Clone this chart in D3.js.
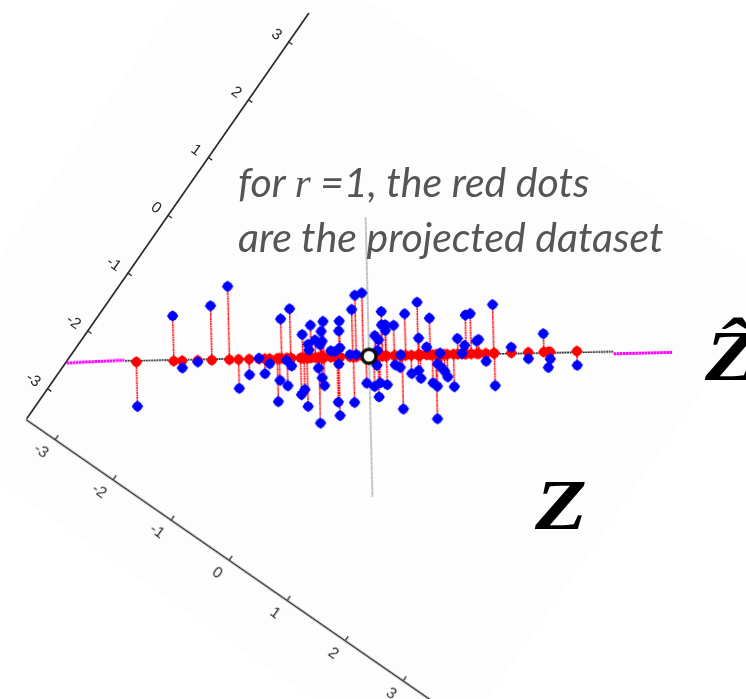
<!DOCTYPE html>
<html>
<head>
<meta charset="utf-8">
<script src="https://cdn.jsdelivr.net/npm/d3@7"></script>
<style>
  html, body { margin: 0; padding: 0; background: #fff; }
  svg { display: block; }
</style>
</head>
<body>
<svg id="chart" width="746" height="699"></svg>
<script>
// scores on the principal direction and the residual off it, one pair per sample
const scores = [
  -3.30, -2.77, -2.65, -2.43, -2.23, -1.98, -1.85, -1.70, -1.56, -1.48,
  -1.41, -1.30, -1.27, -1.24, -1.17, -1.16, -1.11, -1.10, -0.97, -0.94,
  -0.92, -0.88, -0.86, -0.85, -0.82, -0.76, -0.72, -0.69, -0.71, -0.67,
  -0.66, -0.64, -0.67, -0.64, -0.54, -0.48, -0.43, -0.45, -0.41, -0.42,
  -0.41, -0.43, -0.27, -0.23, -0.18, -0.22, -0.18, -0.08, -0.04, 0.19,
  0.09, 0.14, 0.19, 0.24, 0.24, 0.36, 0.11, 0.07, 0.15, 0.25,
  0.13, 0.45, 0.52, 0.37, 0.44, 0.47, 0.70, 0.71, 0.60, 0.70,
  0.73, 0.82, 0.87, 0.90, 0.96, 0.95, 0.97, 1.01, 1.03, 1.07,
  1.11, 1.20, 1.26, 1.36, 1.32, 1.38, 1.45, 1.53, 1.56, 1.66,
  1.77, 1.78, 2.02, 2.26, 2.48, 2.57, 2.54, 2.95, 0.12
];
const residuals = [
  -0.63, 0.64, -0.10, -0.02, 0.77, 1.04, -0.41, -0.22, 0.01, -0.21,
  -0.07, -0.61, -0.31, 0.56, -0.03, -0.39, 0.70, -0.11, -0.52, 0.33,
  -0.45, -0.69, 0.19, 0.11, 0.46, 0.25, -0.15, 0.18, -0.93, 0.37,
  0.23, 0.51, -0.29, -0.40, 0.09, 0.08, -0.10, -0.64, 0.51, 0.37,
  0.13, -0.83, 0.03, 0.67, 0.87, -0.65, 0.03, 0.90, -0.38, 0.63,
  0.29, 0.23, 0.44, 0.44, 0.36, 0.43, -0.13, -0.43, -0.38, -0.41,
  -0.58, 0.01, 0.59, -0.13, -0.17, -0.76, 0.75, 0.24, -0.26, -0.22,
  -0.33, 0.11, 0.52, -0.40, -0.45, -0.91, -0.13, 0.02, -0.19, -0.24,
  -0.32, -0.46, 0.22, 0.12, 0.01, 0.55, 0.57, 0.18, 0.20, -0.11,
  0.69, -0.46, 0.08, -0.09, 0.26, -0.10, -0.22, -0.20, 0.08
];

const tickValues = [-3, -2, -1, 0, 1, 2, 3];
const directionLine = [[-3.46, 0.02], [3.47, -0.02]];
const extentLeft = [[-4.29, 0.01], [-3.47, 0.03]];
const extentRight = [[3.47, -0.05], [4.30, -0.05]];
const normalLine = [[0, 1.97], [0, -2.0]];

const svg = d3.select('#chart');

const defs = svg.append('defs');
defs.append('filter').attr('id', 'soft')
  .attr('x', '-5%').attr('y', '-5%').attr('width', '110%').attr('height', '110%')
  .append('feGaussianBlur').attr('stdDeviation', 0.45);

// the pasted plot sits tilted on the page, a and b are its two axes
const aStep = [40.2, -57.8];
const bStep = [58, 40.2];
const plotCentre = [370.5, 356.2];
const place = (a, b) => [
  plotCentre[0] + a * aStep[0] + b * bStep[0],
  plotCentre[1] + a * aStep[1] + b * bStep[1]
];

svg.append('polygon')
  .attr('points', [[-4.47, -5.12], [4.13, -5.12], [4.13, 4.14], [-4.47, 4.14]]
    .map(d => place(d[0], d[1]).join(',')).join(' '))
  .attr('fill', '#fdfdfd');

const plot = svg.append('g').attr('filter', 'url(#soft)');

// axes
const unitA = Math.hypot(aStep[0], aStep[1]);
const unitB = Math.hypot(bStep[0], bStep[1]);
const axisA = d3.scaleLinear().domain([-3.52, 3.5]).range([0, 7.02 * unitA]);
const axisB = d3.scaleLinear().domain([-3.5, 3.52]).range([0, 7.02 * unitB]);
const corner = place(-3.52, -3.5);
const angleA = Math.atan2(aStep[1], aStep[0]) * 180 / Math.PI;
const angleB = Math.atan2(bStep[1], bStep[0]) * 180 / Math.PI;
const textAngle = 36;

const styleAxis = g => {
  g.selectAll('path').attr('stroke', '#2a2a2a').attr('stroke-width', 1.7);
  g.selectAll('line').attr('stroke', '#2a2a2a').attr('stroke-width', 1.3);
  g.selectAll('text')
    .attr('font-family', '"Liberation Sans", sans-serif')
    .attr('font-size', 15.5)
    .attr('fill', '#2a2a2a')
    .attr('text-anchor', 'end');
};

plot.append('g')
  .attr('transform', `translate(${corner}) rotate(${angleA})`)
  .call(d3.axisTop(axisA).tickValues(tickValues).tickFormat(String)
    .tickSizeInner(-5).tickSizeOuter(0))
  .call(styleAxis)
  .selectAll('text')
  .attr('y', 0).attr('dy', '0.35em')
  .attr('transform', `translate(0,-9.4) rotate(${textAngle - angleA})`);

plot.append('g')
  .attr('transform', `translate(${corner}) rotate(${angleB})`)
  .call(d3.axisBottom(axisB).tickValues(tickValues).tickFormat(String)
    .tickSizeInner(-5).tickSizeOuter(0))
  .call(styleAxis)
  .selectAll('text')
  .attr('y', 0).attr('dy', '0.35em')
  .attr('transform', `translate(1.8,16.8) rotate(${textAngle - angleB})`);

// data frame: along the principal direction, and across it
const frame = plot.append('g').attr('transform', 'translate(369,356.3) rotate(-1.4)');
const sx = d3.scaleLinear().domain([-1, 1]).range([-70.5, 70.5]);
const sy = d3.scaleLinear().domain([-1, 1]).range([70.5, -70.5]);
const line = d3.line().x(d => sx(d[0])).y(d => sy(d[1]));

frame.append('path').attr('d', line(normalLine))
  .attr('fill', 'none').attr('stroke', '#b4b4b4').attr('stroke-width', 1.8)
  .attr('stroke-dasharray', '2 0.5');

frame.selectAll('.stem').data(scores).join('line')
  .attr('class', 'stem')
  .attr('x1', d => sx(d)).attr('x2', d => sx(d))
  .attr('y1', sy(0)).attr('y2', (d, i) => sy(residuals[i]))
  .attr('stroke', '#f00').attr('stroke-width', 1.5)
  .attr('stroke-dasharray', '2 0.5');

frame.append('path').attr('d', line(directionLine))
  .attr('fill', 'none').attr('stroke', '#222').attr('stroke-width', 1.6)
  .attr('stroke-dasharray', '2 0.6');

[extentLeft, extentRight].forEach(seg => {
  frame.append('path').attr('d', line(seg))
    .attr('fill', 'none').attr('stroke', '#f0f').attr('stroke-width', 3)
    .attr('stroke-dasharray', '2.6 0.5');
});

// the marks are rough octagons with the points top, bottom, left and right
const roughDot = {
  draw(context, size) {
    const r = Math.sqrt(size);
    for (let i = 0; i < 8; i++) {
      const ang = i * Math.PI / 4;
      const len = i % 2 ? r * 0.92 : r * 1.1;
      const px = Math.cos(ang) * len;
      const py = Math.sin(ang) * len;
      if (i === 0) context.moveTo(px, py); else context.lineTo(px, py);
    }
    context.closePath();
  }
};
const dot = d3.symbol().type(roughDot).size(27);

frame.selectAll('.red').data(scores).join('path')
  .attr('class', 'red')
  .attr('d', dot)
  .attr('transform', d => `translate(${sx(d)},${sy(0)})`)
  .attr('fill', '#f00');

frame.selectAll('.blue').data(scores).join('path')
  .attr('class', 'blue')
  .attr('d', dot)
  .attr('transform', (d, i) => `translate(${sx(d)},${sy(residuals[i])})`)
  .attr('fill', '#00f');

frame.append('circle')
  .attr('cx', sx(0)).attr('cy', sy(0)).attr('r', 7)
  .attr('fill', '#fff').attr('stroke', '#111').attr('stroke-width', 3.4);

// annotations
const note = svg.append('text')
  .attr('font-family', 'Lato, "Open Sans", sans-serif')
  .attr('font-style', 'italic')
  .attr('font-size', 41)
  .attr('fill', '#555');
const first = note.append('tspan').attr('x', 238).attr('y', 197);
first.append('tspan').text('for ');
first.append('tspan').attr('font-family', '"Liberation Serif", serif').text('r');
first.append('tspan').text(' =1, the red dots');
note.append('tspan').attr('x', 238).attr('y', 252).text('are the projected dataset');

const mathLabel = (label, x, y) => svg.append('text')
  .attr('transform', `translate(${x},${y}) scale(1.18,1)`)
  .attr('font-family', '"Liberation Serif", serif')
  .attr('font-style', 'italic')
  .attr('font-weight', 'bold')
  .attr('font-size', 72)
  .attr('fill', '#000')
  .text(label);

mathLabel('Z', 535, 529);
mathLabel('Ẑ', 705, 380);
</script>
</body>
</html>
